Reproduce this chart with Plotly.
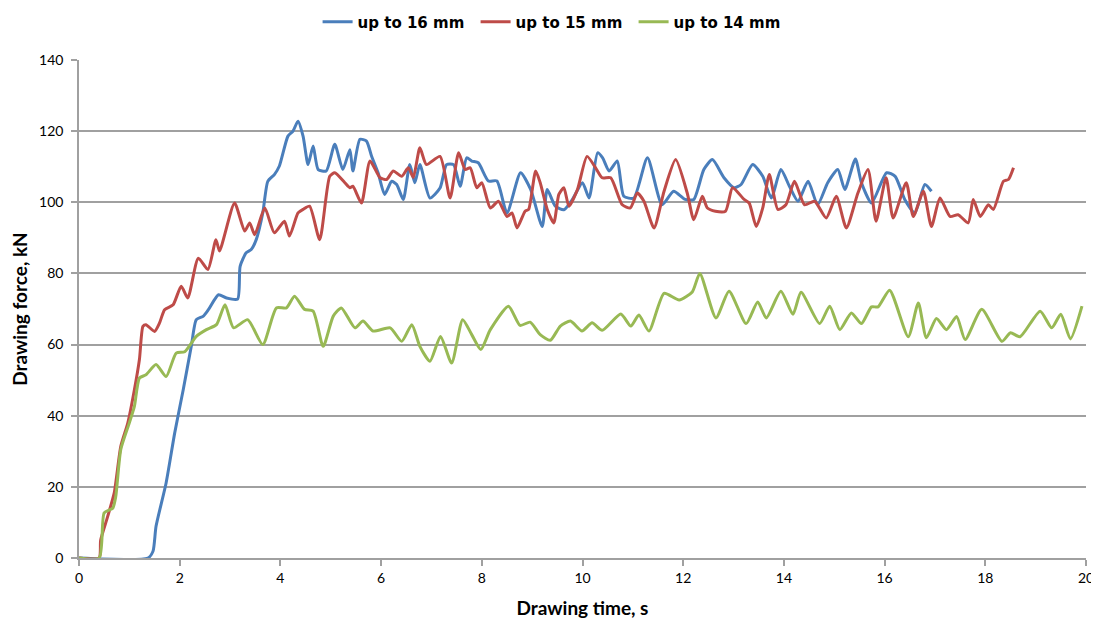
import plotly.graph_objects as go

# ---- data ----
blue_x = [0, 1.37, 1.47, 1.53, 1.73, 1.9, 2.07, 2.23, 2.33, 2.47, 2.57, 2.77, 2.93, 3.15, 3.2, 3.32, 3.42, 3.52, 3.65, 3.75,
          3.88, 3.98, 4.15, 4.25, 4.35, 4.45, 4.55, 4.65, 4.75, 4.91, 5.08, 5.24, 5.38, 5.44, 5.58, 5.71, 5.81, 5.94, 6.07, 6.21,
          6.31, 6.44, 6.57, 6.67, 6.77, 6.97, 7.17, 7.30, 7.44, 7.57, 7.70, 7.80, 7.93, 8.13, 8.30, 8.50, 8.77, 8.97, 9.20, 9.30,
          9.46, 9.63, 9.80, 10.0, 10.13, 10.30, 10.40, 10.53, 10.69, 10.82, 11.02, 11.29, 11.58, 11.81, 12.04, 12.21, 12.41, 12.58, 12.81, 13.01,
          13.15, 13.38, 13.58, 13.75, 13.94, 14.11, 14.28, 14.48, 14.67, 14.87, 15.07, 15.21, 15.42, 15.54, 15.74, 16.04, 16.21, 16.40, 16.60, 16.80,
          16.93]
blue_y = [0, 0, 1.9, 8.9, 21.1, 35.1, 47.3, 59.5, 67, 68, 69.8, 74, 73.1, 72.8, 82, 85.8, 86.7, 89.5, 97, 105.9,
          107.8, 110.2, 118.6, 120, 122.8, 118.6, 110.6, 115.8, 109.2, 108.8, 116.3, 109.2, 114.8, 108.8, 117.7, 117.2, 113, 108.3, 102.2, 105.9,
          105, 100.8, 110.6, 105.5, 110.6, 101.2, 104, 110.6, 110.6, 104.5, 112.5, 111.6, 111.1, 106, 106, 97, 108.3, 103.6, 93.2, 103.6,
          98.9, 97.9, 100.8, 105.5, 101.2, 113.9, 112.5, 108.8, 111.6, 101.7, 101.2, 112.5, 99.3, 103.1, 100.8, 100.8, 109.2, 112, 106.9, 104.1,
          105, 110.6, 107.3, 101.2, 109.2, 104.5, 100.3, 105.9, 99.3, 105.5, 109.2, 103.6, 112.2, 105.5, 99.8, 108.3, 107.3, 100.8, 97, 105,
          103.1]

red_x = [0, 0.4, 0.43, 0.57, 0.7, 0.83, 0.97, 1.1, 1.2, 1.27, 1.33, 1.5, 1.6, 1.7, 1.87, 2.03, 2.16, 2.37, 2.56, 2.72,
         2.79, 3.09, 3.29, 3.39, 3.49, 3.69, 3.88, 4.08, 4.18, 4.35, 4.45, 4.58, 4.78, 4.98, 5.08, 5.28, 5.38, 5.44, 5.61, 5.78,
         5.98, 6.11, 6.24, 6.41, 6.54, 6.64, 6.77, 6.90, 7.17, 7.37, 7.54, 7.67, 7.77, 7.90, 8.00, 8.17, 8.33, 8.50, 8.60, 8.70,
         8.86, 8.93, 9.07, 9.16, 9.30, 9.43, 9.53, 9.63, 9.73, 9.90, 10.09, 10.26, 10.39, 10.56, 10.79, 10.95, 11.09, 11.22, 11.42, 11.62,
         11.85, 12.08, 12.21, 12.38, 12.48, 12.64, 12.84, 12.98, 13.21, 13.31, 13.45, 13.58, 13.71, 13.88, 14.04, 14.21, 14.41, 14.61, 14.84, 15.04,
         15.24, 15.47, 15.67, 15.83, 16.03, 16.17, 16.43, 16.57, 16.77, 16.93, 17.10, 17.30, 17.46, 17.66, 17.76, 17.90, 18.06, 18.16, 18.36, 18.46,
         18.56]
red_y = [0, 0, 5, 11.7, 18.3, 31.4, 38, 47.3, 55.8, 65.1, 65.6, 63.7, 66.1, 69.8, 71.2, 76.4, 73.1, 84.3, 81.1, 89.5,
         86.3, 99.8, 91.9, 94.2, 90.9, 98.4, 91.4, 94.7, 90.5, 97, 98, 98.9, 89.5, 107.3, 108.3, 105.5, 104.1, 104.5, 99.8, 111.6,
         106.9, 106.4, 108.8, 107.3, 109.7, 107, 115.3, 110.6, 112.9, 101.2, 113.9, 109.2, 109.7, 104.1, 105.5, 98.4, 100.3, 96, 97, 92.8,
         97.5, 98, 108.8, 105.5, 98, 94.2, 102.2, 104.1, 98.9, 103.6, 112.9, 109.7, 106.9, 106.9, 99.3, 98.4, 102.6, 100.3, 92.8, 103.1,
         112, 102.6, 95.1, 101.7, 98.4, 97.5, 97.5, 104.1, 100.8, 99.8, 93.2, 98.4, 107.8, 98, 99.3, 105.9, 99.3, 100.3, 95.6, 101.7,
         92.8, 102.6, 109.2, 94.7, 106.9, 95.6, 105.5, 96, 103.1, 93.2, 101.2, 96, 96.5, 94.2, 100.8, 96, 99.3, 98, 105.9, 106.4,
         109.7]

green_x = [0, 0.4, 0.5, 0.67, 0.73, 0.83, 1.0, 1.1, 1.2, 1.33, 1.53, 1.73, 1.93, 2.1, 2.33, 2.53, 2.73, 2.9, 3.07, 3.35,
           3.65, 3.92, 4.12, 4.28, 4.48, 4.65, 4.85, 5.05, 5.21, 5.48, 5.64, 5.84, 6.18, 6.41, 6.61, 6.77, 6.97, 7.18, 7.40, 7.62,
           7.80, 7.98, 8.17, 8.53, 8.76, 8.96, 9.16, 9.36, 9.56, 9.76, 9.99, 10.19, 10.39, 10.76, 10.96, 11.12, 11.32, 11.62, 11.92, 12.18,
           12.33, 12.65, 12.91, 13.25, 13.48, 13.65, 13.94, 14.18, 14.34, 14.71, 14.91, 15.11, 15.34, 15.54, 15.74, 15.87, 16.10, 16.47, 16.67, 16.83,
           17.03, 17.23, 17.43, 17.60, 17.93, 18.33, 18.50, 18.69, 19.09, 19.32, 19.50, 19.69, 19.92]
green_y = [0, 0, 12.7, 14, 17.3, 30.5, 38, 42.6, 50.6, 51.5, 54.4, 51, 57.6, 58, 62.3, 64.2, 65.6, 71.2, 64.7, 67,
           60, 70.3, 70.3, 73.6, 69.9, 69.4, 59.5, 68, 70.3, 64.7, 66.6, 63.8, 64.7, 60.9, 65.6, 59.5, 55.3, 62.3, 54.8, 67,
           62.8, 58.6, 64.2, 70.8, 65.4, 66.3, 62.8, 61.2, 65.2, 66.6, 63.8, 66.1, 64.0, 68.6, 65.2, 68.3, 63.8, 74.4, 72.5, 74.8,
           80, 67.5, 75, 65.9, 72, 67.5, 75, 68.5, 74.7, 65.9, 70.8, 64.2, 68.9, 65.9, 70.6, 70.6, 75.3, 62.2, 71.7, 61.9,
           67.3, 64.2, 67.9, 61.4, 69.9, 60.9, 63.3, 62.2, 69.4, 64.7, 68.5, 61.6, 70.8]

series_names = ["up to 16 mm", "up to 15 mm", "up to 14 mm"]
series_colors = ["#4A7EBB", "#BE4B48", "#98B954"]

fig = go.Figure()
for name, xs, ys, col in zip(series_names, [blue_x, red_x, green_x], [blue_y, red_y, green_y], series_colors):
    fig.add_trace(go.Scatter(x=xs, y=ys, mode="lines", name=name, cliponaxis=False,
                             line=dict(color=col, width=3, shape="spline", smoothing=0.6)))

# page body has an 8px margin; the figure is offset by it
W, H = 1091, 611
grid_col = "#A0A0A0"
fig.update_layout(
    width=W, height=H,
    margin=dict(l=71, r=13, t=52, b=61),
    paper_bgcolor="white", plot_bgcolor="white",
    font=dict(family="Lato", color="black"),
    showlegend=True,
    legend=dict(orientation="h", x=0.501, xanchor="center", xref="container",
                y=1 - 14 / H, yanchor="middle", yref="container",
                font=dict(family="DejaVu Sans", size=15, color="black", weight="bold"),
                itemwidth=30, entrywidth=113, entrywidthmode="pixels",
                tracegroupgap=0, bgcolor="rgba(0,0,0,0)"),
    xaxis=dict(range=[0, 20], dtick=2, tick0=0, showgrid=False, zeroline=False, automargin=False,
               showline=True, linecolor=grid_col, linewidth=1.5, layer="below traces",
               ticks="outside", ticklen=6, tickcolor=grid_col, tickwidth=1.5,
               tickfont=dict(family="Lato", size=14),
               title=dict(text="Drawing time, s", font=dict(family="Lato", size=19, weight="bold"), standoff=20)),
    yaxis=dict(range=[0, 140], dtick=20, tick0=0, showgrid=True, gridcolor=grid_col, gridwidth=1.5,
               zeroline=False, showline=True, linecolor=grid_col, linewidth=1.5, automargin=False,
               layer="below traces",
               ticks="outside", ticklen=6, tickcolor=grid_col, tickwidth=1.5, ticklabelstandoff=5,
               tickfont=dict(family="Lato", size=14),
               title=dict(text="Drawing force, kN", font=dict(family="Lato", size=19, weight="bold"), standoff=10)),
)

fig.write_html("out.html")
